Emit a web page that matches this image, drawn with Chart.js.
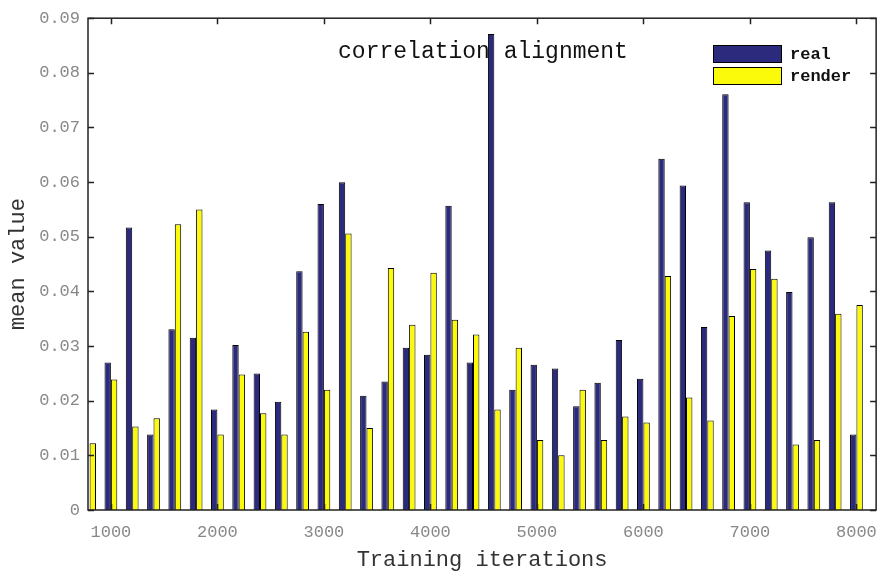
<!DOCTYPE html>
<html lang="en">
<head>
<meta charset="UTF-8">
<title>correlation alignment</title>
<script src="https://cdn.jsdelivr.net/npm/chart.js@4"></script>
<style>
  html, body { margin: 0; padding: 0; background: #fff; }
  #wrap { position: relative; width: 889px; height: 578px; }
  #plot { position: absolute; left: 0; top: 0; }
  .title { position: absolute; left: 483px; top: 52px; transform: translate(-50%, -50%);
           font: 23px "Liberation Mono", monospace; color: #111; white-space: nowrap; }
  .legend { position: absolute; left: 713px; top: 45px; }
  .legend .row { display: flex; align-items: center; height: 18px; margin-bottom: 4px; }
  .swatch { width: 67px; height: 16px; border: 1px solid #000; }
  .legend span { margin-left: 8px; font: bold 17px "Liberation Mono", monospace; color: #111; }
</style>
</head>
<body>
<div id="wrap">
  <canvas id="plot" width="889" height="578"></canvas>
  <div class="title">correlation alignment</div>
  <div class="legend">
    <div class="row"><div class="swatch" style="background:#2b2a7c"></div><span>real</span></div>
    <div class="row"><div class="swatch" style="background:#fafa0a"></div><span>render</span></div>
  </div>
</div>
<script>
  const iterations = [800, 1000, 1200, 1400, 1600, 1800, 2000, 2200, 2400, 2600, 2800, 3000,
    3200, 3400, 3600, 3800, 4000, 4200, 4400, 4600, 4800, 5000, 5200, 5400, 5600, 5800,
    6000, 6200, 6400, 6600, 6800, 7000, 7200, 7400, 7600, 7800, 8000];
  const realValues = [null, 0.0270, 0.0517, 0.0138, 0.0331, 0.0315, 0.0184, 0.0302, 0.0250,
    0.0198, 0.0437, 0.0560, 0.0600, 0.0209, 0.0235, 0.0297, 0.0284, 0.0557, 0.0270, 0.0871,
    0.0220, 0.0266, 0.0259, 0.0190, 0.0233, 0.0311, 0.0240, 0.0643, 0.0594, 0.0335, 0.0761,
    0.0563, 0.0475, 0.0399, 0.0499, 0.0563, 0.0138];
  const renderValues = [0.0122, 0.0239, 0.0153, 0.0168, 0.0523, 0.0550, 0.0138, 0.0248,
    0.0177, 0.0138, 0.0326, 0.0220, 0.0506, 0.0150, 0.0443, 0.0339, 0.0434, 0.0348, 0.0321,
    0.0184, 0.0297, 0.0128, 0.0100, 0.0220, 0.0128, 0.0171, 0.0160, 0.0428, 0.0206, 0.0164,
    0.0355, 0.0441, 0.0423, 0.0120, 0.0128, 0.0359, 0.0375];
  const xTickValues = [1000, 2000, 3000, 4000, 5000, 6000, 7000, 8000];
  const yTickValues = [0, 0.01, 0.02, 0.03, 0.04, 0.05, 0.06, 0.07, 0.08, 0.09];

  const mono = 'Liberation Mono';

  // box around the axes with inward tick marks on all four sides
  const frame = {
    id: 'frame',
    afterDatasetsDraw(chart) {
      const { ctx, chartArea: a, scales: { x, y } } = chart;
      ctx.save();
      ctx.strokeStyle = '#222';
      ctx.lineWidth = 1.5;
      ctx.strokeRect(a.left, a.top, a.right - a.left, a.bottom - a.top);
      ctx.beginPath();
      x.ticks.forEach(t => {
        const px = Math.round(x.getPixelForValue(t.value)) + 0.5;
        ctx.moveTo(px, a.bottom); ctx.lineTo(px, a.bottom - 6);
        ctx.moveTo(px, a.top); ctx.lineTo(px, a.top + 6);
      });
      y.ticks.forEach(t => {
        const py = Math.round(y.getPixelForValue(t.value)) + 0.5;
        ctx.moveTo(a.left, py); ctx.lineTo(a.left + 6, py);
        ctx.moveTo(a.right, py); ctx.lineTo(a.right - 6, py);
      });
      ctx.stroke();
      ctx.restore();
    }
  };

  new Chart(document.getElementById('plot'), {
    type: 'bar',
    data: {
      datasets: [
        {
          label: 'real',
          data: iterations.map((x, i) => ({ x, y: realValues[i] })),
          backgroundColor: '#2b2a7c',
          borderColor: '#000',
          borderWidth: 1
        },
        {
          label: 'render',
          data: iterations.map((x, i) => ({ x, y: renderValues[i] })),
          backgroundColor: '#fafa0a',
          borderColor: '#000',
          borderWidth: 1
        }
      ]
    },
    options: {
      responsive: false,
      animation: false,
      categoryPercentage: 0.6,
      barPercentage: 1.0,
      layout: { padding: { top: 16, right: 7, left: 0, bottom: 0 } },
      plugins: { legend: { display: false }, tooltip: { enabled: false } },
      scales: {
        x: {
          type: 'linear',
          min: 785,
          max: 8185,
          offset: false,
          grid: { display: false, drawTicks: false },
          border: { display: false },
          afterBuildTicks: s => { s.ticks = xTickValues.map(v => ({ value: v })); },
          afterFit: s => { s.height = 68; },
          ticks: {
            padding: 12, color: '#888', maxRotation: 0, autoSkip: false,
            font: { family: mono, size: 17 },
            callback: v => String(v)
          },
          title: {
            display: true, text: 'Training iterations', color: '#333',
            font: { family: mono, size: 22 }, padding: { top: 0, bottom: 5 }
          }
        },
        y: {
          min: 0,
          max: 0.09,
          grid: { display: false, drawTicks: false },
          border: { display: false },
          afterBuildTicks: s => { s.ticks = yTickValues.map(v => ({ value: v })); },
          afterFit: s => { s.width = 88; },
          ticks: {
            padding: 8, color: '#888',
            font: { family: mono, size: 17 },
            callback: v => String(+v.toFixed(2))
          },
          title: {
            display: true, text: 'mean value', color: '#333',
            font: { family: mono, size: 22 }, padding: { top: 5, bottom: 0 }
          }
        }
      }
    },
    plugins: [frame]
  });
</script>
</body>
</html>
